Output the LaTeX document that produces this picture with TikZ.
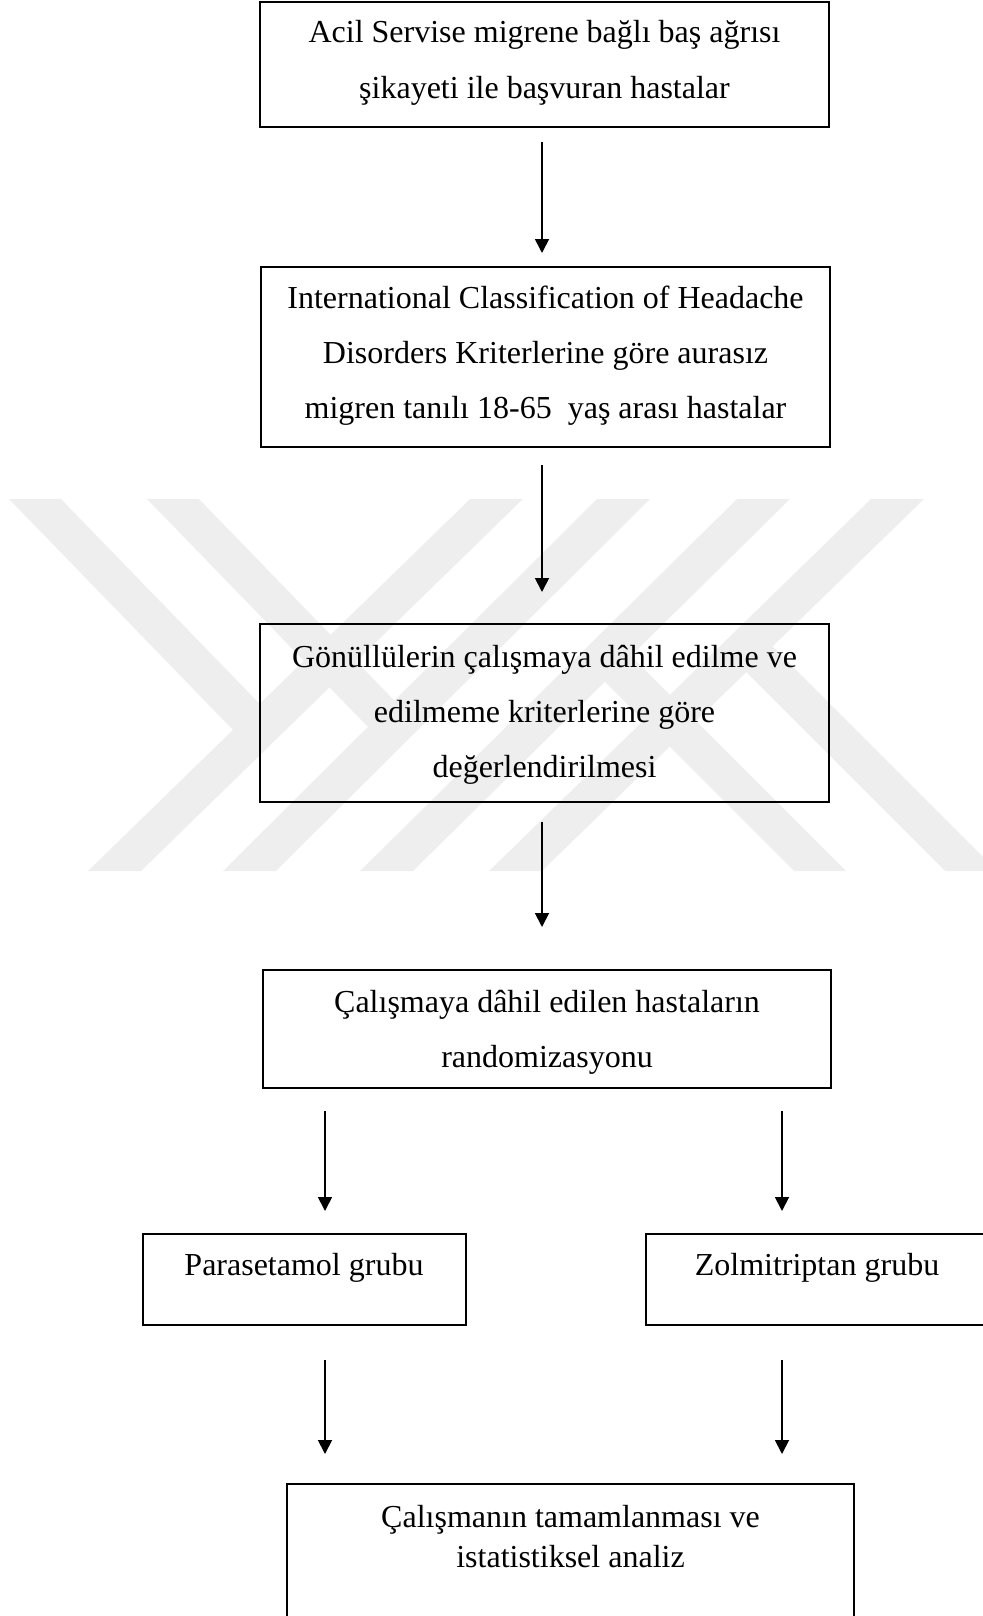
\documentclass[tikz,border=0pt]{standalone}
\usepackage{fontspec}
\setmainfont{Liberation Serif}
\usetikzlibrary{arrows.meta}
\definecolor{wm}{RGB}{238,238,238}
\begin{document}
\begin{tikzpicture}[x=0.5pt,y=-0.5pt,
  box/.style={draw=black,line width=0.9pt,inner sep=0pt,outer sep=0pt},
  txt/.style={anchor=base,inner sep=0pt,outer sep=0pt,font=\fontsize{16}{20}\selectfont},
  arr/.style={draw=black,line width=0.9pt,-{Triangle[length=7pt,width=7pt]}},
  wmband/.style={fill=wm,draw=none}]
\useasboundingbox (0,0) rectangle (983,1616);
\clip (0,0) rectangle (983,1616);
% faint watermark
\fill[wmband] (470,499)--(523,499)--(141,871)--(88,871)--cycle;
\fill[wmband] (597,499)--(650,499)--(276,871)--(223,871)--cycle;
\fill[wmband] (737,499)--(790,499)--(413,871)--(360,871)--cycle;
\fill[wmband] (871,499)--(924,499)--(542,871)--(489,871)--cycle;
\fill[wmband] (9,499)--(61,499)--(285,730)--(233,730)--cycle;
\fill[wmband] (147,499)--(199,499)--(420,727)--(368,727)--cycle;
\fill[wmband] (578.5,655.5)--(630.5,655.5)--(846,871)--(794,871)--cycle;
\fill[wmband] (720,646)--(772,646)--(997,871)--(945,871)--cycle;
% boxes
\node[box,minimum width=284.5pt,minimum height=62.5pt] (B1) at (544.5,64.5) {};
\node[box,minimum width=284.5pt,minimum height=90pt] (B2) at (545.5,357) {};
\node[box,minimum width=284.5pt,minimum height=89pt] (B3) at (544.5,713) {};
\node[box,minimum width=284pt,minimum height=59pt] (B4) at (547,1029) {};
\node[box,minimum width=161.5pt,minimum height=45.5pt] (B5) at (304.5,1279.5) {};
\node[box,minimum width=171pt,minimum height=45.5pt] (B6) at (817,1279.5) {};
\node[box,minimum width=283.5pt,minimum height=78pt] (B7) at (570.5,1562) {};
% texts
\node[txt] (t1a) at (544.5,43) {Acil Servise migrene bağlı baş ağrısı};
\node[txt] (t1b) at (544.5,98) {şikayeti ile başvuran hastalar};
\node[txt] (t2a) at (545.5,308) {International Classification of Headache};
\node[txt] (t2b) at (545.5,363) {Disorders Kriterlerine göre aurasız};
\node[txt] (t2c) at (545.5,418) {migren tanılı 18-65\ \ yaş arası hastalar};
\node[txt] (t3a) at (544.5,667) {Gönüllülerin çalışmaya dâhil edilme ve};
\node[txt] (t3b) at (544.5,722) {edilmeme kriterlerine göre};
\node[txt] (t3c) at (544.5,777) {değerlendirilmesi};
\node[txt] (t4a) at (547,1012) {Çalışmaya dâhil edilen hastaların};
\node[txt] (t4b) at (547,1067) {randomizasyonu};
\node[txt] (t5) at (304,1275) {Parasetamol grubu};
\node[txt] (t6) at (817,1275) {Zolmitriptan grubu};
\node[txt] (t7a) at (570.5,1527) {Çalışmanın tamamlanması ve};
\node[txt] (t7b) at (570.5,1567) {istatistiksel analiz};
% arrows
\draw[arr] ([xshift=-1.25pt,yshift=-7.5pt]B1.south) -- ([xshift=-1.75pt,yshift=7pt]B2.north);
\draw[arr] ([xshift=-1.75pt,yshift=-9pt]B2.south) -- ([xshift=-1.25pt,yshift=16pt]B3.north);
\draw[arr] ([xshift=-1.25pt,yshift=-10pt]B3.south) -- ([xshift=-2.5pt,yshift=21.5pt]B4.north);
\draw[arr] ([xshift=-111pt,yshift=-11.5pt]B4.south) -- ([xshift=10.25pt,yshift=11.5pt]B5.north);
\draw[arr] ([xshift=117.5pt,yshift=-11.5pt]B4.south) -- ([xshift=-17.5pt,yshift=11.5pt]B6.north);
\draw[arr] ([xshift=10.25pt,yshift=-17.5pt]B5.south) -- ([xshift=-122.75pt,yshift=15pt]B7.north);
\draw[arr] ([xshift=-17.5pt,yshift=-17.5pt]B6.south) -- ([xshift=105.75pt,yshift=15pt]B7.north);
\end{tikzpicture}
\end{document}
